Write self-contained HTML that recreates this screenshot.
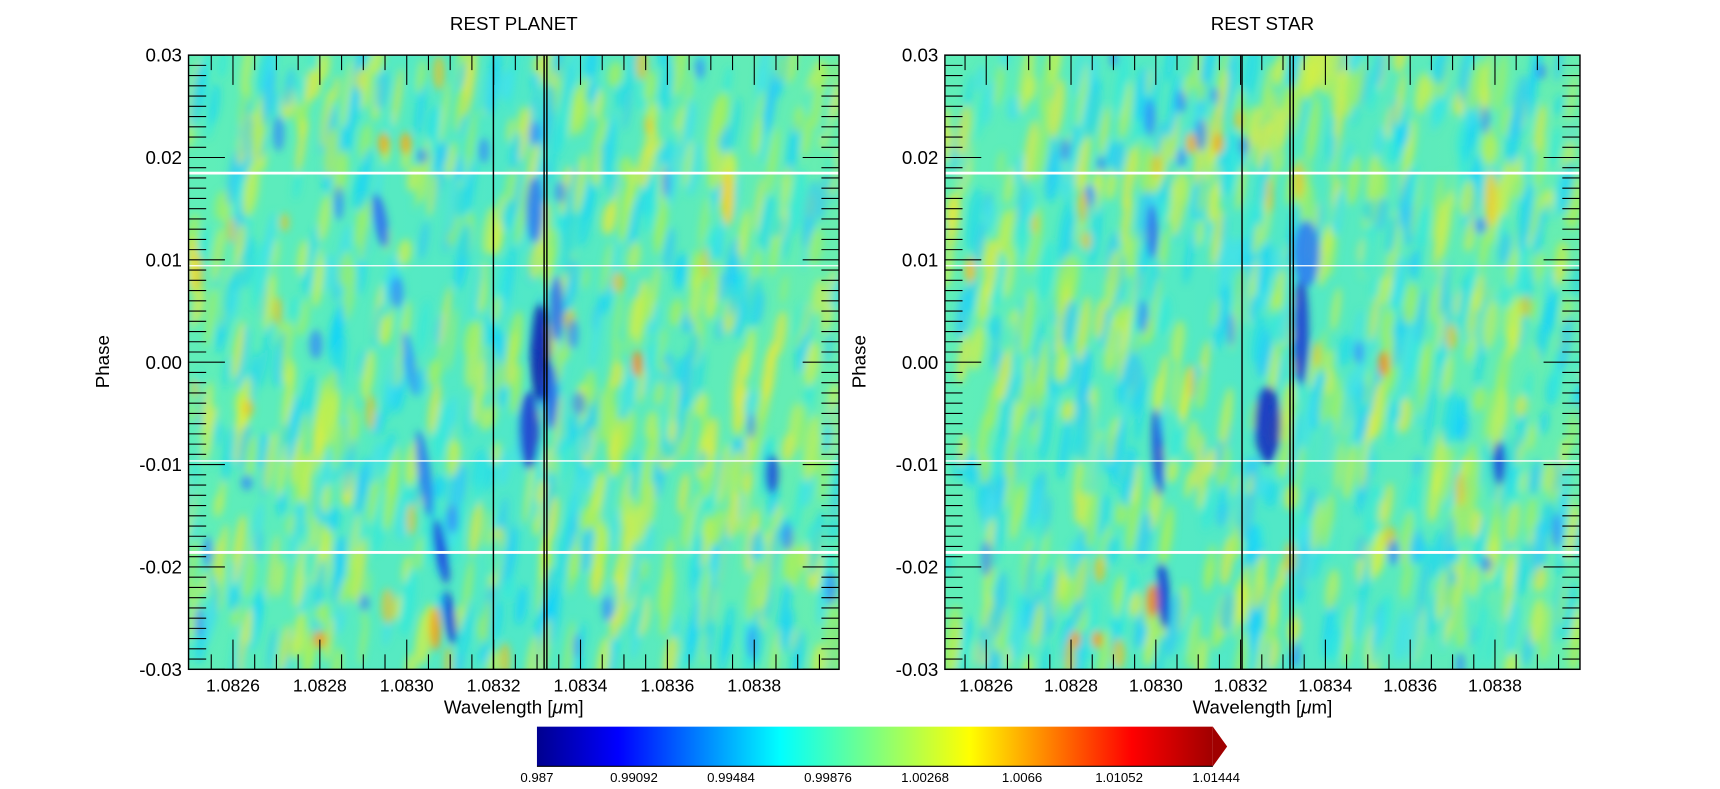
<!DOCTYPE html><html><head><style>
body{margin:0;background:#fff;width:1720px;height:784px;overflow:hidden;font-family:"Liberation Sans","DejaVu Sans",sans-serif}
</style></head><body>
<svg id="s" width="1720" height="784" viewBox="0 0 1560 711" preserveAspectRatio="none" xmlns="http://www.w3.org/2000/svg" font-family="Liberation Sans, DejaVu Sans, sans-serif">
<defs>
<filter id="b" x="-20%" y="-20%" width="140%" height="140%"><feGaussianBlur stdDeviation="3.5"/></filter>
<linearGradient id="bg" x1="0" x2="1"><stop offset="0" stop-color="#60eeb8"/><stop offset="0.5" stop-color="#50e8c8"/><stop offset="1" stop-color="#68eeb0"/></linearGradient>
<linearGradient id="jet" x1="0" x2="1">
<stop offset="0" stop-color="#00008f"/><stop offset="0.12" stop-color="#0000ff"/><stop offset="0.36" stop-color="#00ffff"/><stop offset="0.5" stop-color="#7fff7f"/><stop offset="0.64" stop-color="#ffff00"/><stop offset="0.88" stop-color="#ff0000"/><stop offset="1" stop-color="#a00000"/></linearGradient>
<clipPath id="c1"><rect x="171" y="50" width="590" height="557"/></clipPath>
<clipPath id="c2"><rect x="857" y="50" width="576" height="557"/></clipPath>
</defs>
<g id="h1" clip-path="url(#c1)"><rect x="171" y="50" width="590" height="557" fill="url(#bg)"/></g>
<g id="h2" clip-path="url(#c2)"><rect x="857" y="50" width="576" height="557" fill="url(#bg)"/></g>
<g id="ov"></g>
<text x="466" y="27" font-size="17" text-anchor="middle">REST PLANET</text>
<text x="1145" y="27" font-size="17" text-anchor="middle">REST STAR</text>
<text x="466" y="647" font-size="17" text-anchor="middle">Wavelength [<tspan font-style="italic">μ</tspan>m]</text>
<text x="1145" y="647" font-size="17" text-anchor="middle">Wavelength [<tspan font-style="italic">μ</tspan>m]</text>
<text transform="translate(99,328) rotate(-90)" font-size="17" text-anchor="middle">Phase</text>
<text transform="translate(785,328) rotate(-90)" font-size="17" text-anchor="middle">Phase</text>
<rect x="487" y="659" width="613" height="36" fill="url(#jet)"/>
<polygon points="1100,659 1113,677 1100,695" fill="#a00000"/>
<line x1="487" x2="1100" y1="695" y2="695" stroke="#000" stroke-width="1"/>
<g font-size="12" text-anchor="middle">
<text x="487" y="709">0.987</text><text x="575" y="709">0.99092</text><text x="663" y="709">0.99484</text><text x="751" y="709">0.99876</text><text x="839" y="709">1.00268</text><text x="927" y="709">1.0066</text><text x="1015" y="709">1.01052</text><text x="1103" y="709">1.01444</text>
</g>
</svg>
<script>
var NS='http://www.w3.org/2000/svg';
function el(p,t,a){var e=document.createElementNS(NS,t);for(var k in a)e.setAttribute(k,a[k]);p.appendChild(e);return e;}
var seed=7;function r(){seed=(seed*16807)%2147483647;return seed/2147483647;}
var cols=['#20d8f0','#30c8f8','#a0f060','#d8f040','#e8e838','#40e0f0','#b0f050','#30e8e0','#10d0ff','#c8f050'];
function heat(gid,x0,w,dark){
 var g=el(document.getElementById(gid),'g',{filter:'url(#b)'});
 for(var i=0;i<900;i++){var c=cols[Math.floor(r()*cols.length)];var x=x0+r()*w,y=50+r()*557;
  el(g,'ellipse',{cx:x,cy:y,rx:2.5+r()*4,ry:10+r()*22,fill:c,opacity:0.7,transform:'rotate(8 '+x+' '+y+')'});}
 for(var i=0;i<40;i++){el(g,'ellipse',{cx:x0+r()*w,cy:50+r()*557,rx:3+r()*3,ry:7+r()*10,fill:r()<0.5?'#3080ff':'#f0c020',opacity:0.7});}
 dark.forEach(function(d){el(g,'ellipse',{cx:d[0],cy:d[1],rx:d[2],ry:d[3],fill:d[4],opacity:0.9,transform:'rotate('+(d[5]||0)+' '+d[0]+' '+d[1]+')'});});
}
heat('h1',171,590,[[345,200,6,25,'#3070f0',-10],[372,330,5,30,'#30a0f8',-10],[385,430,6,40,'#2880f0',-8],[400,500,6,30,'#2050e0',-10],[408,560,5,25,'#1840d8',-8],[395,570,5,20,'#f0a020'],[490,320,9,45,'#1020b0'],[480,390,9,35,'#2040d0'],[485,190,8,30,'#3080f0'],[505,280,6,30,'#3070f0'],[500,360,6,30,'#2868e8'],[700,430,6,18,'#2050d8'],[578,330,5,12,'#f09020'],[175,240,5,25,'#f0e030'],[660,180,6,25,'#f0d030'],[348,130,5,10,'#f0b020'],[368,130,5,10,'#f0b020'],[290,580,6,8,'#f0a020']]);
heat('h2',857,576,[[1050,410,5,40,'#2050e0',-3],[1055,540,6,30,'#1840d8',-3],[1045,210,5,25,'#3070f0'],[1150,385,12,35,'#1830c0'],[1180,300,7,50,'#2040d0'],[1185,230,12,30,'#3080f0'],[1360,420,6,20,'#2050d8'],[1255,330,5,12,'#f09020'],[880,245,5,12,'#f0c030'],[1045,545,5,15,'#f08020'],[1352,180,6,25,'#f0d030'],[1080,130,5,10,'#f0b020'],[1105,130,5,10,'#f0b020'],[975,580,5,8,'#f0a020'],[995,580,5,8,'#f0a020']]);
var ov=document.getElementById('ov');
function frame(x0,w,t0,tstep,vl){
 [157,501].forEach(function(y){el(ov,'line',{x1:x0,x2:x0+w,y1:y,y2:y,stroke:'#fff','stroke-width':2.5});});
 [241,418].forEach(function(y){el(ov,'line',{x1:x0,x2:x0+w,y1:y,y2:y,stroke:'#fff','stroke-width':1.2});});
 vl.forEach(function(x){el(ov,'line',{x1:x,x2:x,y1:50,y2:607,stroke:'#000','stroke-width':1.3});});
 el(ov,'rect',{x:x0,y:50,width:w,height:557,fill:'none',stroke:'#000','stroke-width':1.3});
 var ms=tstep/4;
 for(var i=-8;i<40;i++){var x=t0+i*ms;if(x<=x0+1||x>=x0+w-1)continue;var maj=((i%4)+4)%4==0;
  el(ov,'line',{x1:x,x2:x,y1:607,y2:607-(maj?27:13.6),stroke:'#000','stroke-width':1});
  el(ov,'line',{x1:x,x2:x,y1:50,y2:50+(maj?27:13.6),stroke:'#000','stroke-width':1});
 }
 for(var k=0;k<=6;k++){el(ov,'text',{x:t0+k*tstep,y:627,'font-size':16,'text-anchor':'middle'}).textContent=(1.0826+k*0.0002).toFixed(4);}
 for(var j=0;j<=60;j++){var y=50+j*557/60;var L=(j%10==0)?33:16;
  el(ov,'line',{x1:x0,x2:x0+L,y1:y,y2:y,stroke:'#000','stroke-width':1});
  el(ov,'line',{x1:x0+w,x2:x0+w-L,y1:y,y2:y,stroke:'#000','stroke-width':1});
  if(j%10==0){el(ov,'text',{x:x0-6,y:y+6,'font-size':17,'text-anchor':'end'}).textContent=(0.03-j*0.001).toFixed(2).replace('-0.00','0.00');}
 }
}
frame(171,590,211.3,78.8,[447.5,493.5,496]);
frame(857,576,894.5,76.9,[1126.5,1170,1173]);
</script>
</body></html>
